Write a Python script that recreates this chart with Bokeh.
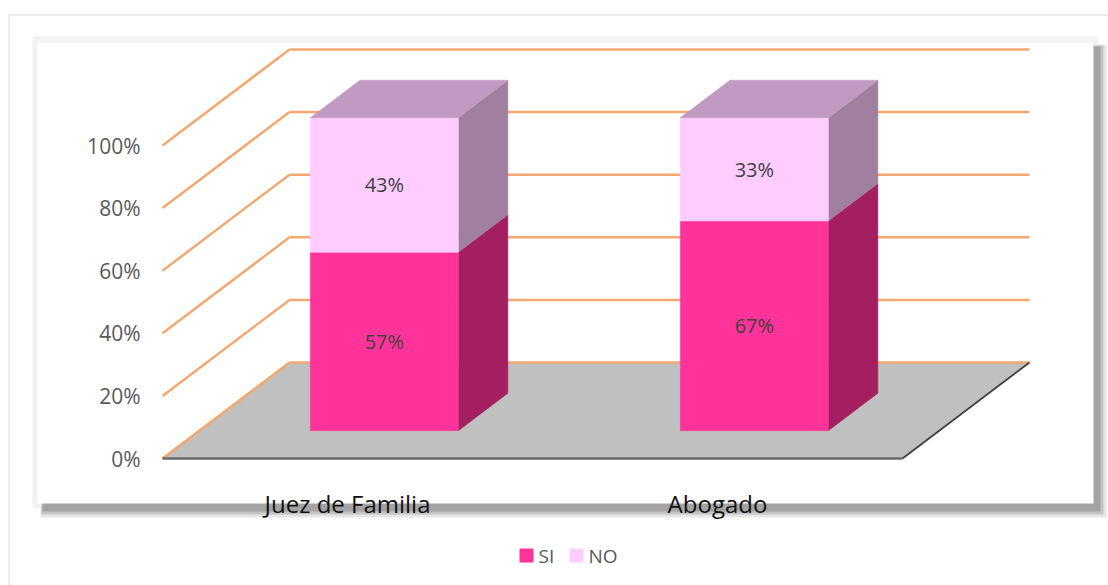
from bokeh.plotting import figure
from bokeh.models import Range1d
from bokeh.embed import file_html
from bokeh.resources import INLINE
from bokeh.core.properties import value

# ---------------- data ----------------
categories = ["Juez de Familia", "Abogado"]
si_values = [57, 67]
no_values = [43, 33]
series_names = ["SI", "NO"]
tick_values = [0, 20, 40, 60, 80, 100]
tick_labels = ["0%", "20%", "40%", "60%", "80%", "100%"]

# ---------------- styles ----------------
FONT = value("Open Sans")
C_SI_FRONT, C_SI_SIDE = "#FF3399", "#A31F5F"
C_NO_FRONT, C_NO_SIDE, C_NO_TOP = "#FFCCFF", "#A17F9F", "#C19AC1"
C_GRID = "#F3A872"
C_FLOOR = "#C0C0C0"

# ---------------- geometry / scales ----------------
W, H = 1108, 585
PX_CAT = 370.0      # pixels per category unit
PX_PCT = 3.13       # pixels per percent
X0 = 347.0          # canvas px of category 0 at the front plane
Y0 = 458.0          # canvas px (from top) of 0% at the front plane
DEPTH_X_PX, DEPTH_Y_PX = 127.0, 96.0
BAR_W = 0.4
D_FRONT, D_BACK = 0.29, 0.68

p = figure(width=W, height=H, output_backend="svg", toolbar_location=None,
           x_range=Range1d(-X0 / PX_CAT, (W - X0) / PX_CAT),
           y_range=Range1d(-(H - Y0) / PX_PCT, Y0 / PX_PCT),
           min_border=0, min_border_left=0, min_border_right=0,
           min_border_top=0, min_border_bottom=0)
p.axis.visible = False
p.grid.visible = False
p.outline_line_color = None
p.background_fill_color = "white"
p.border_fill_color = "white"


def proj(x, y, d):
    return x + d * DEPTH_X_PX / PX_CAT, y + d * DEPTH_Y_PX / PX_PCT


def px(cx):
    return (cx - X0) / PX_CAT


def py(cy):
    return (Y0 - cy) / PX_PCT


def pquad(x0, x1, y0, y1, color):
    p.quad(left=px(x0), right=px(x1), top=py(y0), bottom=py(y1),
           fill_color=color, line_color=None)


# ---------------- frame decorations ----------------
p.line([px(8.5), px(8.5)], [py(14.5), py(600)], line_color="#D9D9D9", line_width=1)
p.line([px(8.5), px(1107.5)], [py(14.5), py(14.5)], line_color="#D9D9D9", line_width=1)
pquad(32, 1097, 36, 508, "#F2F2F2")
pquad(40, 1106, 44, 517, "#E6E6E6")
pquad(41, 1103, 45, 514, "#C4C4C4")
pquad(42, 1100, 46, 511, "#A3A3A3")
pquad(37, 1093, 42, 503, "#FFFFFF")

# ---------------- floor ----------------
lo, hi = -0.5, len(categories) - 0.5
fl = [proj(lo, 0, 0), proj(hi, 0, 0), proj(hi, 0, 1), proj(lo, 0, 1)]
p.patch([c[0] for c in fl], [c[1] for c in fl], fill_color=C_FLOOR, line_color=None)

# ---------------- grid (back wall + left wall) ----------------
gx, gy = [], []
for v in tick_values:
    a, b = proj(lo, v, 1), proj(hi, v, 1)
    gx.append([a[0], b[0]]); gy.append([a[1], b[1]])
    c = proj(lo, v, 0)
    gx.append([c[0], a[0]]); gy.append([c[1], a[1]])
p.multi_line(gx, gy, line_color=C_GRID, line_width=2.5)

# floor front and right edges
e0, e1, e2 = proj(lo, 0, 0), proj(hi, 0, 0), proj(hi, 0, 1)
p.line([e0[0], e1[0]], [e0[1], e1[1]], line_color="#6A6A6A", line_width=2.5)
p.line([e1[0], e2[0]], [e1[1], e2[1]], line_color="#404040", line_width=1.8)

# ---------------- bars ----------------
lab_x, lab_y, lab_t = [], [], []
for i, cat in enumerate(categories):
    segs = [(0, si_values[i], C_SI_FRONT, C_SI_SIDE),
            (si_values[i], si_values[i] + no_values[i], C_NO_FRONT, C_NO_SIDE)]
    for (y0, y1, cf, cs) in segs:
        s = [proj(i + BAR_W / 2, y0, D_FRONT), proj(i + BAR_W / 2, y0, D_BACK),
             proj(i + BAR_W / 2, y1, D_BACK), proj(i + BAR_W / 2, y1, D_FRONT)]
        p.patch([c[0] for c in s], [c[1] for c in s], fill_color=cs, line_color=cs, line_width=0.5)
        f = [proj(i - BAR_W / 2, y0, D_FRONT), proj(i + BAR_W / 2, y0, D_FRONT),
             proj(i + BAR_W / 2, y1, D_FRONT), proj(i - BAR_W / 2, y1, D_FRONT)]
        p.patch([c[0] for c in f], [c[1] for c in f], fill_color=cf, line_color=cf, line_width=0.5)
        cx, cy = proj(i, (y0 + y1) / 2, D_FRONT)
        lab_x.append(cx); lab_y.append(cy); lab_t.append(f"{y1 - y0}%")
    top = si_values[i] + no_values[i]
    t = [proj(i - BAR_W / 2, top, D_FRONT), proj(i + BAR_W / 2, top, D_FRONT),
         proj(i + BAR_W / 2, top, D_BACK), proj(i - BAR_W / 2, top, D_BACK)]
    p.patch([c[0] for c in t], [c[1] for c in t], fill_color=C_NO_TOP, line_color=C_NO_TOP, line_width=0.5)

p.text(x=lab_x, y=lab_y, text=lab_t, text_font=FONT, text_font_size="20px",
       text_color="#404040", text_align="center", text_baseline="middle")

# ---------------- axis labels ----------------
p.text(x=[lo - 22 / PX_CAT] * len(tick_values), y=tick_values, text=tick_labels,
       text_font=FONT, text_font_size="21px", text_color="#595959",
       text_align="right", text_baseline="middle")
p.text(x=list(range(len(categories))), y=[-45 / PX_PCT] * len(categories), text=categories,
       text_font=FONT, text_font_size="24px", text_color="#111111",
       text_align="center", text_baseline="alphabetic")

# ---------------- legend ----------------
leg_colors = [C_SI_FRONT, C_NO_FRONT]
leg_x = [519, 569]
for k, name in enumerate(series_names):
    pquad(leg_x[k], leg_x[k] + 14, 548, 562, leg_colors[k])
p.text(x=[px(lx + 19) for lx in leg_x], y=[py(555)] * 2, text=series_names,
       text_font=FONT, text_font_size="19px", text_color="#595959",
       text_align="left", text_baseline="middle")

open("out.html", "w").write(file_html(p, INLINE))
